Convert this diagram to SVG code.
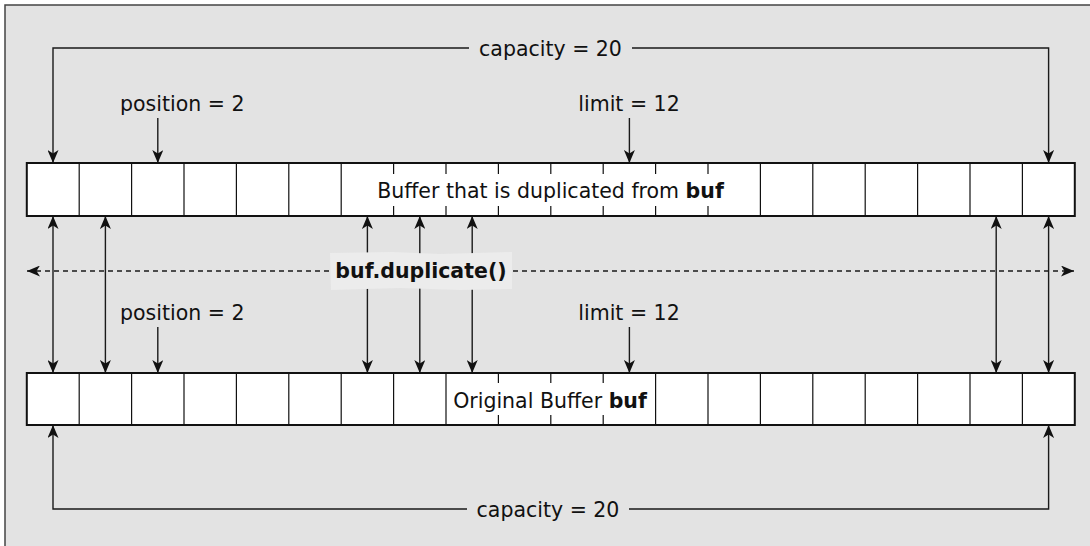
<svg xmlns="http://www.w3.org/2000/svg" width="1090" height="546" viewBox="0 0 1090 546">
  <defs>
    <marker id="ah" markerUnits="userSpaceOnUse" markerWidth="13" markerHeight="11" refX="13" refY="5.5" orient="auto-start-reverse">
      <path d="M0,0 L13,5.5 L0,11 L3.5,5.5 z" fill="#111"/>
    </marker>
    <style>
      .lbl { font-family: "DejaVu Sans", "Liberation Sans", sans-serif; font-size: 20.5px; fill: #111; }
      .bold { font-weight: bold; }
      .cell { fill: #fff; stroke: #111; stroke-width: 2; }
      .div { stroke: #111; stroke-width: 1.2; fill: none; }
      .conn { stroke: #1a1a1a; stroke-width: 1.4; fill: none; }
      .dash { stroke: #1a1a1a; stroke-width: 1.4; fill: none; stroke-dasharray: 5 4; }
    </style>
  </defs>

  <rect x="0" y="0" width="1090" height="546" fill="#fff"/>
  <g id="frame">
    <rect x="5" y="5" width="1100" height="560" fill="#e3e3e3" stroke="#444" stroke-width="1.5"/>
  </g>

  <g id="connectors">
    <!-- top capacity -->
    <path class="conn" d="M469,48 H53 V163" marker-end="url(#ah)"/>
    <path class="conn" d="M632,48 H1048.6 V163" marker-end="url(#ah)"/>
    <!-- top position / limit -->
    <path class="conn" d="M157.8,118 V163" marker-end="url(#ah)"/>
    <path class="conn" d="M629.4,118 V163" marker-end="url(#ah)"/>
    <!-- between buffers -->
    <path class="conn" d="M53,216 V373" marker-start="url(#ah)" marker-end="url(#ah)"/>
    <path class="conn" d="M105.4,216 V373" marker-start="url(#ah)" marker-end="url(#ah)"/>
    <path class="conn" d="M367.4,216 V373" marker-start="url(#ah)" marker-end="url(#ah)"/>
    <path class="conn" d="M419.8,216 V373" marker-start="url(#ah)" marker-end="url(#ah)"/>
    <path class="conn" d="M472.2,216 V373" marker-start="url(#ah)" marker-end="url(#ah)"/>
    <path class="conn" d="M996.2,216 V373" marker-start="url(#ah)" marker-end="url(#ah)"/>
    <path class="conn" d="M1048.6,216 V373" marker-start="url(#ah)" marker-end="url(#ah)"/>
    <!-- dashed duplicate arrow -->
    <path class="dash" d="M27,271 H1074" marker-start="url(#ah)" marker-end="url(#ah)"/>
    <!-- bottom position / limit -->
    <path class="conn" d="M157.8,327 V373" marker-end="url(#ah)"/>
    <path class="conn" d="M629.4,327 V373" marker-end="url(#ah)"/>
    <!-- bottom capacity -->
    <path class="conn" d="M467,509 H53 V425" marker-end="url(#ah)"/>
    <path class="conn" d="M629,509 H1048.6 V425" marker-end="url(#ah)"/>
  </g>

  <g id="capacity-top">
    <text class="lbl" x="550.5" y="56" text-anchor="middle">capacity = 20</text>
  </g>
  <g id="position-top">
    <text class="lbl" x="120" y="111">position = 2</text>
  </g>
  <g id="limit-top">
    <text class="lbl" x="629" y="111" text-anchor="middle">limit = 12</text>
  </g>

  <g id="buffer-duplicate">
    <rect class="cell" x="26.8" y="163" width="1048" height="53"/>
    <path class="div" d="M79.2,163V216 M131.6,163V216 M184,163V216 M236.4,163V216 M288.8,163V216 M341.2,163V216
      M393.6,163v11 M393.6,216v-10 M446,163v11 M446,216v-10 M498.4,163v11 M498.4,216v-10 M550.8,163v11 M550.8,216v-10
      M603.2,163v11 M603.2,216v-10 M655.6,163v11 M655.6,216v-10 M708,163v11 M708,216v-10
      M760.4,163V216 M812.8,163V216 M865.2,163V216 M917.6,163V216 M970,163V216 M1022.4,163V216"/>
    <text class="lbl" x="550.5" y="197.5" text-anchor="middle">Buffer that is duplicated from <tspan class="bold">buf</tspan></text>
  </g>

  <g id="duplicate-label">
    <path d="M330,253 L392,252 L440,254 L512,252 L512,289 L460,290 L400,288 L331,290 z" fill="#ececec"/>
    <text class="lbl bold" x="421" y="278" text-anchor="middle" font-size="18.2">buf.duplicate()</text>
  </g>

  <g id="position-bottom">
    <text class="lbl" x="120" y="320">position = 2</text>
  </g>
  <g id="limit-bottom">
    <text class="lbl" x="629" y="320" text-anchor="middle">limit = 12</text>
  </g>

  <g id="buffer-original">
    <rect class="cell" x="26.8" y="373" width="1048" height="52"/>
    <path class="div" d="M79.2,373V425 M131.6,373V425 M184,373V425 M236.4,373V425 M288.8,373V425 M341.2,373V425
      M393.6,373V425 M446,373V425
      M498.4,373v10 M498.4,425v-10 M550.8,373v10 M550.8,425v-10 M603.2,373v10 M603.2,425v-10
      M655.6,373V425 M708,373V425 M760.4,373V425 M812.8,373V425 M865.2,373V425 M917.6,373V425 M970,373V425 M1022.4,373V425"/>
    <text class="lbl" x="550" y="407.5" text-anchor="middle">Original Buffer <tspan class="bold">buf</tspan></text>
  </g>

  <g id="capacity-bottom">
    <text class="lbl" x="548" y="517" text-anchor="middle">capacity = 20</text>
  </g>
</svg>
